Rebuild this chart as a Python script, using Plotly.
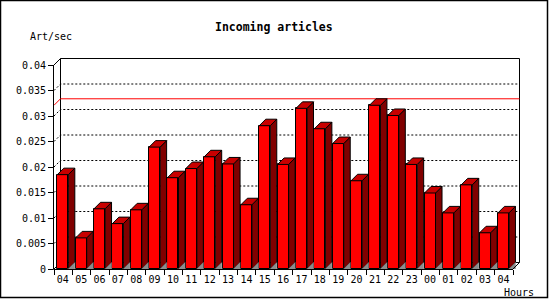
import plotly.graph_objects as go

# ---------------- data ----------------
hours = ["04", "05", "06", "07", "08", "09", "10", "11", "12", "13", "14", "15", "16",
         "17", "18", "19", "20", "21", "22", "23", "00", "01", "02", "03", "04"]
art_per_sec = [0.0185, 0.0061, 0.0118, 0.0089, 0.0116, 0.0239, 0.0179, 0.0197, 0.0220,
               0.0206, 0.0126, 0.0281, 0.0205, 0.0315, 0.0275, 0.0246, 0.0173, 0.0321,
               0.0301, 0.0205, 0.0149, 0.0110, 0.0165, 0.0071, 0.0110]
y_ticks = [0, 0.005, 0.01, 0.015, 0.02, 0.025, 0.03, 0.035, 0.04]
y_tick_text = ["0", "0.005", "0.01", "0.015", "0.02", "0.025", "0.03", "0.035", "0.04"]
title_text = "Incoming articles"
y_title = "Art/sec"
x_title = "Hours"

# ---------------- layout geometry ----------------
W, H = 550, 300
ML, MR, MT, MB = 54, 29, 58, 31
PW, PH = W - ML - MR, H - MT - MB
N = len(hours)
YMAX = 0.04
PX_PER_CAT = 18.36
PX_PER_UNIT = 5100.0
X1 = PW / PX_PER_CAT
Y1 = PH / PX_PER_UNIT
DX = 6.5 / PX_PER_CAT
DY = 6.5 / PX_PER_UNIT
BAR_L, BAR_W = 0.18, 0.60

FONT = "DejaVu Sans Mono"
RED, DARK, TOP, GREY = "#ff0000", "#800000", "#c80000", "#8c8c8c"
DOTS = "2px,2px"


def px2paper_x(px):
    return (px - ML) / PW


def py2paper_y(py):
    return (H - MB - py) / PH


def dx2paper(x):
    return x / X1


def dy2paper(y):
    return y / Y1


fig = go.Figure()

# front faces
centers = [i + BAR_L + BAR_W / 2 for i in range(N)]
fig.add_trace(go.Bar(
    x=centers, y=art_per_sec, width=BAR_W,
    marker=dict(color=RED, line=dict(color="black", width=1)),
    hoverinfo="skip", showlegend=False,
))

# side, top and floor faces
for i, v in enumerate(art_per_sec):
    xl = i + BAR_L
    xr = xl + BAR_W
    fig.add_trace(go.Scatter(
        x=[xr, xr + DX, xr + DX, xr, xr], y=[v, v + DY, DY, 0, v],
        mode="lines", fill="toself", fillcolor=DARK,
        line=dict(color="black", width=1), hoverinfo="skip", showlegend=False))
    fig.add_trace(go.Scatter(
        x=[xl, xl + DX, xr + DX, xr, xl], y=[v, v + DY, v + DY, v, v],
        mode="lines", fill="toself", fillcolor=TOP,
        line=dict(color="black", width=1), hoverinfo="skip", showlegend=False))
    fig.add_trace(go.Scatter(
        x=[xr, xr + DX, xr + DX, xr], y=[0, DY, 0, 0],
        mode="lines", fill="toself", fillcolor=GREY,
        line=dict(color=GREY, width=0.5), hoverinfo="skip", showlegend=False))

shapes = []
# back plane
shapes.append(dict(type="rect", xref="x", yref="y", x0=DX, y0=DY, x1=N + DX, y1=YMAX + DY,
                   line=dict(color="black", width=1), fillcolor="white", layer="below"))
# dotted grid on back plane with small diagonals
for v in y_ticks[1:-1]:
    shapes.append(dict(type="path", xref="x", yref="y",
                       path=f"M 0,{v} L {DX},{v + DY} L {N + DX},{v + DY}",
                       line=dict(color="black", width=1, dash=DOTS), layer="below"))
# max line
m = max(art_per_sec)
shapes.append(dict(type="path", xref="x", yref="y",
                   path=f"M 0,{m} L {DX},{m + DY} L {N + DX},{m + DY}",
                   line=dict(color="red", width=1), layer="below"))
# corner diagonals
shapes.append(dict(type="line", xref="x", yref="y", x0=0, y0=YMAX, x1=DX, y1=YMAX + DY,
                   line=dict(color="black", width=1), layer="below"))
shapes.append(dict(type="line", xref="x", yref="y", x0=0, y0=0, x1=DX, y1=DY,
                   line=dict(color="black", width=1), layer="below"))
shapes.append(dict(type="line", xref="x", yref="y", x0=N, y0=0, x1=N + DX, y1=DY,
                   line=dict(color="black", width=1), layer="above"))
# front axis lines
shapes.append(dict(type="line", xref="paper", yref="paper",
                   x0=px2paper_x(ML - 0.5), x1=px2paper_x(ML - 0.5),
                   y0=py2paper_y(H - MB + 0.5), y1=dy2paper(YMAX),
                   line=dict(color="black", width=1), layer="above"))
shapes.append(dict(type="line", xref="paper", yref="paper",
                   x0=px2paper_x(ML - 0.5), x1=dx2paper(N),
                   y0=py2paper_y(H - MB + 0.5), y1=py2paper_y(H - MB + 0.5),
                   line=dict(color="black", width=1), layer="above"))
# outer frame
shapes.append(dict(type="rect", xref="paper", yref="paper",
                   x0=px2paper_x(0.5), x1=px2paper_x(547.5),
                   y0=py2paper_y(297.5), y1=py2paper_y(0.5),
                   line=dict(color="black", width=1.5), layer="above"))

annotations = [
    dict(text=f"<b>{title_text}</b>", xref="paper", yref="paper",
         x=px2paper_x(274), y=py2paper_y(27), xanchor="center", yanchor="middle",
         showarrow=False, font=dict(family=FONT, size=11.5, color="black")),
    dict(text=y_title, xref="paper", yref="paper",
         x=px2paper_x(50.5), y=py2paper_y(37), xanchor="center", yanchor="middle",
         showarrow=False, font=dict(family=FONT, size=10, color="black")),
    dict(text=x_title, xref="paper", yref="paper",
         x=px2paper_x(519), y=py2paper_y(292), xanchor="center", yanchor="middle",
         showarrow=False, font=dict(family=FONT, size=10, color="black")),
]

fig.update_layout(
    width=W, height=H,
    margin=dict(l=ML, r=MR, t=MT, b=MB, pad=0),
    paper_bgcolor="white", plot_bgcolor="white",
    showlegend=False, bargap=0,
    shapes=shapes, annotations=annotations,
    font=dict(family=FONT, size=10, color="black"),
    xaxis=dict(range=[0, X1], tickmode="array", tickvals=centers, ticktext=hours,
               ticks="outside", ticklen=1, tickcolor="rgba(0,0,0,0)",
               showgrid=False, zeroline=False, showline=False, fixedrange=True,
               minor=dict(tickmode="array", tickvals=list(range(N + 1)), ticks="outside",
                          ticklen=5, tickcolor="black", tickwidth=1, showgrid=False),
               tickfont=dict(family=FONT, size=10, color="black")),
    yaxis=dict(range=[0, Y1], tickmode="array", tickvals=y_ticks, ticktext=y_tick_text,
               ticks="outside", ticklen=5, tickcolor="black", tickwidth=1,
               showgrid=False, zeroline=False, showline=False, fixedrange=True,
               tickfont=dict(family=FONT, size=10, color="black")),
)

fig.write_html("out.html")
